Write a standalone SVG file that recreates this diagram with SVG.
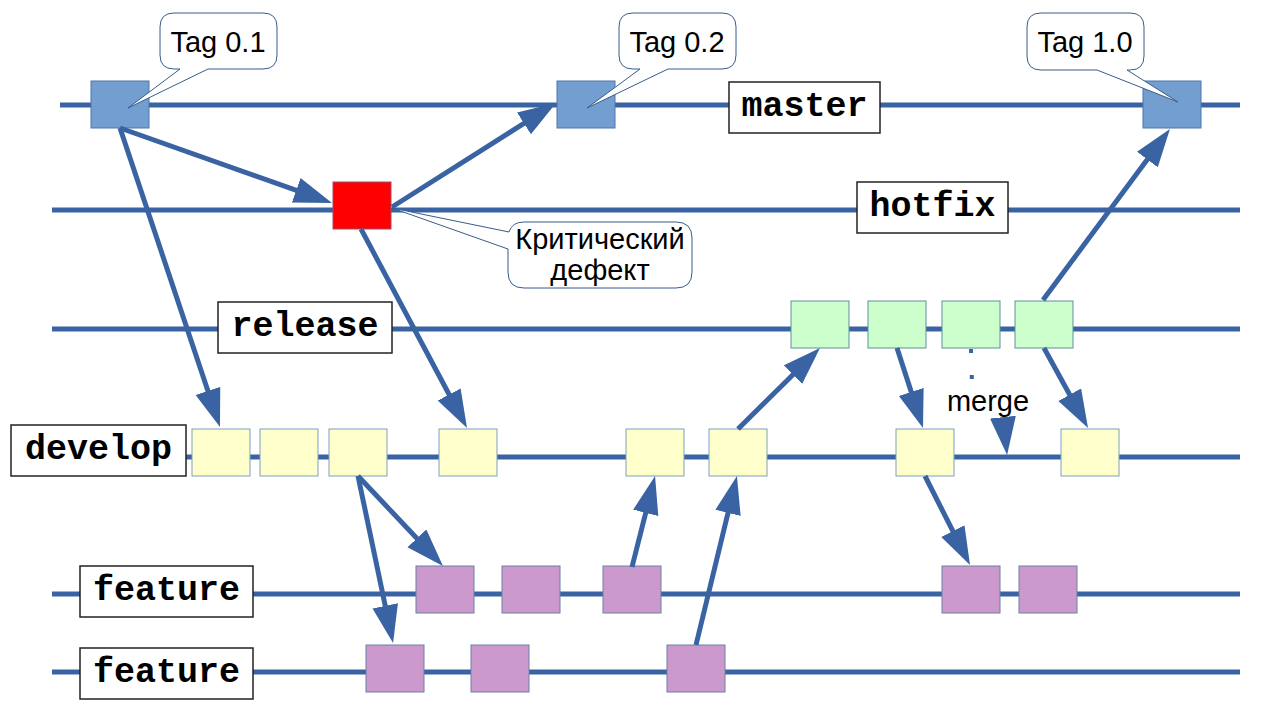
<svg xmlns="http://www.w3.org/2000/svg" width="1280" height="720" viewBox="0 0 1280 720">
<defs>
<style>
.branch{stroke:#3a63a3;stroke-width:5;fill:none}
.arr{stroke:#3a63a3;stroke-width:5;fill:none;marker-end:url(#ah)}
.m{fill:#729fcf;stroke:#4f77ad;stroke-width:1}
.h{fill:#ff0000;stroke:#a04a6a;stroke-width:1}
.r{fill:#ccffcc;stroke:#5f8f9f;stroke-width:1}
.d{fill:#ffffcc;stroke:#7f9fbf;stroke-width:1}
.f{fill:#cc99cc;stroke:#6b80a8;stroke-width:1}
.lbl rect{fill:#fff;stroke:#222;stroke-width:1.5}
.lbl text{font-family:"Liberation Mono",monospace;font-weight:bold;font-size:35px;text-anchor:middle;fill:#000}
.co path{fill:#fff;stroke:#385d8a;stroke-width:1}
.co text{font-family:"Liberation Sans",Arial,sans-serif;font-size:29px;text-anchor:middle;fill:#000}
</style>
<marker id="ah" markerUnits="userSpaceOnUse" markerWidth="40" markerHeight="28" refX="28" refY="13" orient="auto">
<path d="M0,0 L38,13 L0,26 Z" fill="#3a63a3"/>
</marker>
</defs>
<rect width="1280" height="720" fill="#fff"/>
<g id="branches">
<line class="branch" x1="60" y1="105" x2="1240" y2="105"/>
<line class="branch" x1="52" y1="210" x2="1240" y2="210"/>
<line class="branch" x1="52" y1="329" x2="1240" y2="329"/>
<line class="branch" x1="186" y1="457" x2="1240" y2="457"/>
<line class="branch" x1="52" y1="594" x2="1240" y2="594"/>
<line class="branch" x1="52" y1="672" x2="1240" y2="672"/>
</g>
<g id="commits-master">
<rect id="m1" class="m" x="91" y="81" width="58" height="47"/>
<rect id="m2" class="m" x="557" y="81" width="58" height="47"/>
<rect id="m3" class="m" x="1143" y="81" width="58" height="47"/>
</g>
<g id="commit-hotfix">
<rect id="h1" class="h" x="333" y="182" width="58" height="47"/>
</g>
<g id="commits-release">
<rect id="r1" class="r" x="791" y="301" width="58" height="47"/>
<rect id="r2" class="r" x="868" y="301" width="58" height="47"/>
<rect id="r3" class="r" x="942" y="301" width="58" height="47"/>
<rect id="r4" class="r" x="1015" y="301" width="58" height="47"/>
</g>
<g id="commits-develop">
<rect id="d1" class="d" x="192" y="429" width="58" height="47"/>
<rect id="d2" class="d" x="260" y="429" width="58" height="47"/>
<rect id="d3" class="d" x="329" y="429" width="58" height="47"/>
<rect id="d4" class="d" x="439" y="429" width="58" height="47"/>
<rect id="d5" class="d" x="626" y="429" width="58" height="47"/>
<rect id="d6" class="d" x="709" y="429" width="58" height="47"/>
<rect id="d7" class="d" x="896" y="429" width="58" height="47"/>
<rect id="d8" class="d" x="1061" y="429" width="58" height="47"/>
</g>
<g id="commits-feature1">
<rect id="f1" class="f" x="416" y="566" width="58" height="47"/>
<rect id="f2" class="f" x="502" y="566" width="58" height="47"/>
<rect id="f3" class="f" x="603" y="566" width="58" height="47"/>
<rect id="f4" class="f" x="942" y="566" width="58" height="47"/>
<rect id="f5" class="f" x="1019" y="566" width="58" height="47"/>
</g>
<g id="commits-feature2">
<rect id="g1" class="f" x="366" y="645" width="58" height="47"/>
<rect id="g2" class="f" x="471" y="645" width="58" height="47"/>
<rect id="g3" class="f" x="667" y="645" width="58" height="47"/>
</g>
<g id="connectors">
<line class="arr" x1="120" y1="128" x2="216.8" y2="417.5"/>
<line class="arr" x1="120" y1="128" x2="322.6" y2="199.7"/>
<line class="arr" x1="392" y1="207" x2="547.6" y2="108.4"/>
<line class="arr" x1="361" y1="229" x2="462.3" y2="419.2"/>
<line class="arr" x1="358" y1="476" x2="436.1" y2="558.7"/>
<line class="arr" x1="358" y1="476" x2="391.0" y2="633.2"/>
<line class="arr" x1="632" y1="567" x2="652.6" y2="485.7"/>
<line class="arr" x1="696" y1="645" x2="734.6" y2="485.7"/>
<line class="arr" x1="738" y1="429" x2="812.9" y2="355.0"/>
<line class="arr" x1="897" y1="348" x2="919.9" y2="418.5"/>
<line class="arr" x1="1044" y1="348" x2="1083.2" y2="419.2"/>
<line class="arr" x1="1043" y1="300" x2="1164.0" y2="137.0"/>
<line class="arr" x1="925" y1="476" x2="965.5" y2="556.1"/>
<line x1="971" y1="349" x2="972" y2="385" stroke="#3a63a3" stroke-width="4" stroke-dasharray="4 22"/>
<line class="arr" x1="1003" y1="418" x2="1006" y2="445"/>
</g>
<g id="label-master" class="lbl"><rect x="729" y="82" width="151" height="51"/><text x="804.5" y="116">master</text></g>
<g id="label-hotfix" class="lbl"><rect x="857" y="182" width="151" height="51"/><text x="932.5" y="216">hotfix</text></g>
<g id="label-release" class="lbl"><rect x="218" y="302" width="174" height="51"/><text x="305" y="336">release</text></g>
<g id="label-develop" class="lbl"><rect x="11" y="425" width="175" height="51"/><text x="98.5" y="459">develop</text></g>
<g id="label-feature1" class="lbl"><rect x="80" y="566" width="173" height="51"/><text x="166.5" y="600">feature</text></g>
<g id="label-feature2" class="lbl"><rect x="80" y="648" width="173" height="51"/><text x="166.5" y="682">feature</text></g>
<g id="callout-tag01" class="co">
<path d="M174,13 H263 Q277,13 277,27 V55 Q277,69 263,69 H208 L128,108 L180,69 H174 Q160,69 160,55 V27 Q160,13 174,13 Z"/>
<text x="218" y="52">Tag 0.1</text>
</g>
<g id="callout-tag02" class="co">
<path d="M633,13 H722 Q736,13 736,27 V55 Q736,69 722,69 H668 L587,108 L640,69 H633 Q619,69 619,55 V27 Q619,13 633,13 Z"/>
<text x="677" y="52">Tag 0.2</text>
</g>
<g id="callout-tag10" class="co">
<path d="M1041,13 H1130 Q1144,13 1144,27 V56 Q1144,70 1130,70 H1127 L1178,102 L1097,70 H1041 Q1027,70 1027,56 V27 Q1027,13 1041,13 Z"/>
<text x="1085" y="52">Tag 1.0</text>
</g>
<g id="callout-defect" class="co">
<path d="M524,222 H676 Q692,222 692,238 V272 Q692,288 676,288 H524 Q508,288 508,272 V249 L392,208 L509,232 Q512,222 524,222 Z"/>
<text x="600" y="249">Критический</text>
<text x="600" y="280">дефект</text>
</g>
<g id="merge-label">
<text x="988" y="411" font-family="Liberation Sans, Arial, sans-serif" font-size="29" text-anchor="middle" fill="#000">merge</text>
</g>
</svg>
